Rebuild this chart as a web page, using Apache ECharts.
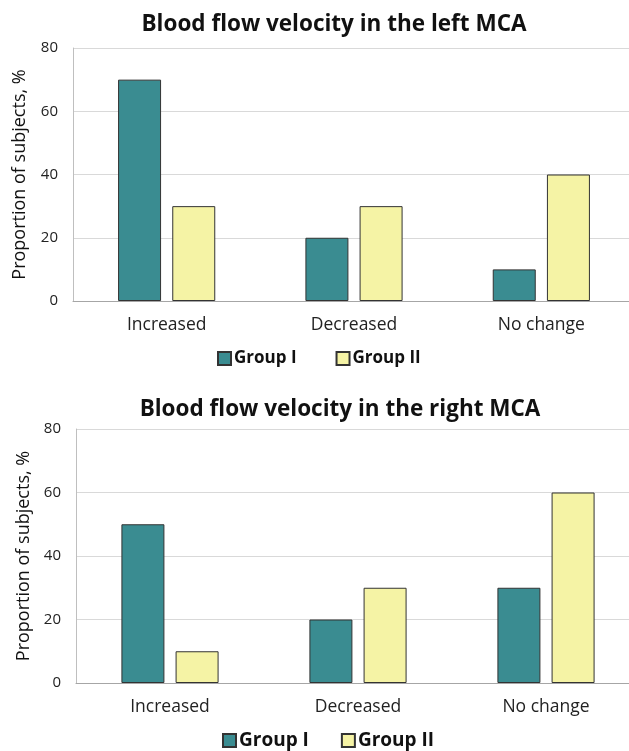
<!DOCTYPE html>
<html>
<head>
<meta charset="utf-8">
<script src="https://cdn.jsdelivr.net/npm/echarts@6/dist/echarts.min.js"></script>
<style>
html,body{margin:0;padding:0;background:#fff;overflow:hidden;width:629px;height:751px;}
#chart{width:645px;height:751px;}
</style>
</head>
<body>
<div id="chart"></div>
<script>
const categories = ['Increased', 'Decreased', 'No change'];
const seriesNames = ['Group I', 'Group II'];
const leftGroupI = [70, 20, 10];
const leftGroupII = [30, 30, 40];
const rightGroupI = [50, 20, 30];
const rightGroupII = [10, 30, 60];
const yTicks = [0, 20, 40, 60, 80];
const titles = ['Blood flow velocity in the left MCA', 'Blood flow velocity in the right MCA'];
const yName = 'Proportion of subjects, %';

const FONT = '"Open Sans", sans-serif';
const colors = ['#3a8c91', '#f5f3a5'];

const chart = echarts.init(document.getElementById('chart'));

function yAxis(gi, gap) {
  return {
    gridIndex: gi, type: 'value', min: yTicks[0], max: yTicks[yTicks.length - 1], interval: yTicks[1] - yTicks[0],
    name: yName, nameLocation: 'middle', nameGap: gap,
    nameTextStyle: {fontFamily: FONT, fontSize: 18, color: '#111'},
    axisLine: {show: true, lineStyle: {color: '#bfbfbf', width: 1}},
    axisTick: {show: false},
    axisLabel: {fontFamily: FONT, fontSize: 15, color: '#222', margin: 15},
    splitLine: {lineStyle: {color: '#d9d9d9', width: 1}}
  };
}
function xAxis(gi) {
  return {
    gridIndex: gi, type: 'category', data: categories,
    axisLine: {lineStyle: {color: '#a6a6a6', width: 1}},
    axisTick: {show: false},
    axisLabel: {fontFamily: FONT, fontSize: 17.5, color: '#222', margin: 15}
  };
}
function bar(name, data, idx, gi) {
  return {
    name: name, type: 'bar', xAxisIndex: gi, yAxisIndex: gi, data: data,
    barWidth: 43, barGap: '26%',
    itemStyle: {color: colors[idx], borderColor: '#333', borderWidth: 1},
    emphasis: {disabled: true}
  };
}
function legend(top, left, fs, gap) {
  return {
    data: seriesNames, top: top, left: left, itemWidth: 13, itemHeight: 13, itemGap: gap,
    icon: 'rect', padding: 0,
    textStyle: {fontFamily: FONT, fontSize: fs, fontWeight: 'bold', color: '#111', padding: [0, 0, 0, -2]}
  };
}

chart.setOption({
  animation: false,
  backgroundColor: '#fff',
  title: [
    {text: titles[0], left: 329, textAlign: 'center', top: 8, textStyle: {fontFamily: FONT, fontSize: 22.5, fontWeight: 'bold', color: '#111'}},
    {text: titles[1], left: 335, textAlign: 'center', top: 393, textStyle: {fontFamily: FONT, fontSize: 22.5, fontWeight: 'bold', color: '#111'}}
  ],
  legend: [legend(350, 217, 17, 39), legend(731, 222, 19, 32)],
  grid: [
    {left: 73, top: 48, width: 562, height: 253},
    {left: 76, top: 429, width: 564, height: 254}
  ],
  xAxis: [xAxis(0), xAxis(1)],
  yAxis: [yAxis(0, 44), yAxis(1, 40)],
  series: [
    bar(seriesNames[0], leftGroupI, 0, 0),
    bar(seriesNames[1], leftGroupII, 1, 0),
    bar(seriesNames[0], rightGroupI, 0, 1),
    bar(seriesNames[1], rightGroupII, 1, 1)
  ]
});
</script>
</body>
</html>
